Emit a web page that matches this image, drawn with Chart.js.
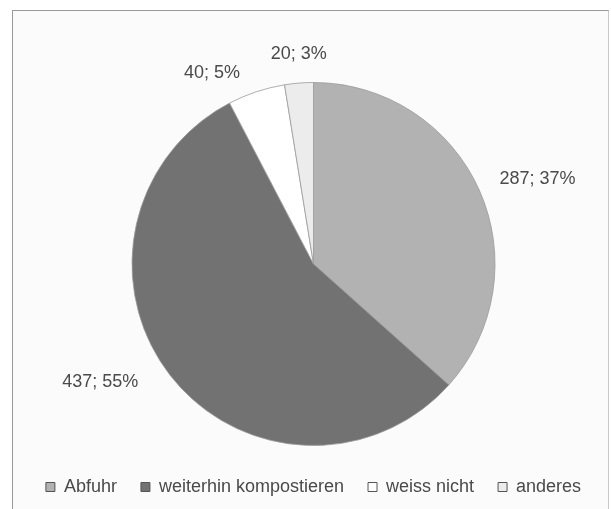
<!DOCTYPE html>
<html>
<head>
<meta charset="utf-8">
<script src="https://cdn.jsdelivr.net/npm/chart.js@4.4.1/dist/chart.umd.min.js"></script>
<style>
    html, body { margin: 0; padding: 0; background: #ffffff; }
    #wrap { position: relative; width: 611px; height: 509px; overflow: hidden; }
    #frame {
        position: absolute; left: 12px; top: 10px; width: 595px; height: 520px;
        border-left: 1px solid #9a9a9a; border-top: 1px solid #9a9a9a; border-right: 1px solid #c8c8c8;
        background: #fbfbfb;
    }
    #myPieChart { position: absolute; left: 0; top: 0; }
</style>
</head>
<body>
<div id="wrap">
    <div id="frame"></div>
    <canvas id="myPieChart" width="611" height="509"></canvas>
</div>
<script>
const categories = ['Abfuhr', 'weiterhin kompostieren', 'weiss nicht', 'anderes'];
const counts = [287, 437, 40, 20];
const percent_labels = [37, 55, 5, 3];
const slice_colors = ['#b2b2b2', '#727272', '#ffffff', '#ececec'];

// where each value label sits, relative to the middle of its slice
const label_offsets = [
    { dist: 58, turn: 3.4 },
    { dist: 62, turn: 9 },
    { dist: 35, turn: -9.6 },
    { dist: 29, turn: 0.6 }
];

const valueLabels = {
    id: 'valueLabels',
    afterDatasetsDraw(chart) {
        const ctx = chart.ctx;
        const meta = chart.getDatasetMeta(0);
        ctx.save();
        ctx.font = '18px "Liberation Sans", Arial, sans-serif';
        ctx.fillStyle = '#4a4a4a';
        ctx.textAlign = 'center';
        ctx.textBaseline = 'middle';
        meta.data.forEach((arc, i) => {
            const p = arc.getProps(['x', 'y', 'startAngle', 'endAngle', 'outerRadius'], true);
            const mid = (p.startAngle + p.endAngle) / 2 + label_offsets[i].turn * Math.PI / 180;
            const r = p.outerRadius + label_offsets[i].dist;
            const txt = counts[i] + '; ' + percent_labels[i] + '%';
            ctx.fillText(txt, p.x + Math.cos(mid) * r, p.y + Math.sin(mid) * r);
        });
        ctx.restore();
    }
};

window.onload = () => {
    pie_graph(categories, counts);
}

function pie_graph(labels, values) {
    const ctx = document.getElementById('myPieChart').getContext('2d');

    window.myPieChart = new Chart(ctx, {
        type: 'pie',
        data: {
            labels: labels,
            datasets: [{
                data: values,
                backgroundColor: slice_colors,
                borderColor: '#9a9a9a',
                borderWidth: 0.8,
                radius: 181.5
            }]
        },
        options: {
            responsive: false,
            animation: false,
            layout: {
                padding: { left: 16, right: 0, top: 74, bottom: 3 }
            },
            plugins: {
                tooltip: { enabled: false },
                legend: {
                    position: 'bottom',
                    labels: {
                        boxWidth: 9,
                        boxHeight: 9,
                        padding: 24,
                        color: '#4a4a4a',
                        font: { family: '"Liberation Sans", Arial, sans-serif', size: 18 },
                        generateLabels(chart) {
                            const items = Chart.overrides.pie.plugins.legend.labels.generateLabels(chart);
                            items.forEach(item => {
                                item.strokeStyle = '#555555';
                                item.lineWidth = 1;
                            });
                            return items;
                        }
                    }
                }
            }
        },
        plugins: [valueLabels]
    });
}
</script>
</body>
</html>
